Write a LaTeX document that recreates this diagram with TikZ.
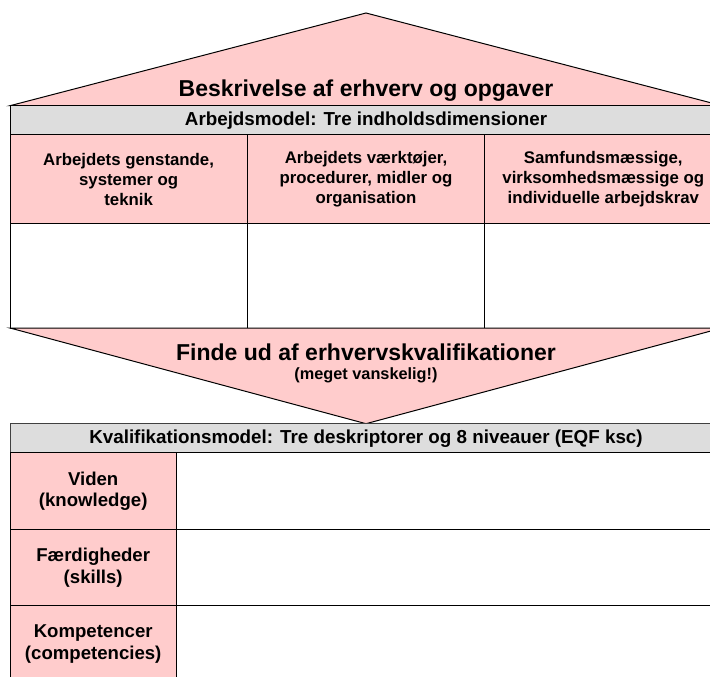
\documentclass[tikz,border=0pt]{standalone}
\usepackage{fontspec}
\setmainfont{Liberation Sans}
\usepackage{tikz}
\usetikzlibrary{positioning}
\definecolor{roofpink}{HTML}{FFCCCC}
\definecolor{bandgray}{HTML}{DDDDDD}

\begin{document}
\begin{tikzpicture}[x=1pt, y=-1pt,
	frame/.style={draw=black, line width=1pt},
	bigtext/.style={font=\bfseries\fontsize{23}{27}\selectfont, align=center},
	bandtext/.style={font=\bfseries\fontsize{18.8}{22}\selectfont, align=center},
	dimtext/.style={font=\bfseries\fontsize{16.8}{20}\selectfont, align=center},
	leveltext/.style={font=\bfseries\fontsize{18.6}{21.5}\selectfont, align=center}]

	\useasboundingbox (0,0) rectangle (710,677);
	\clip (0,0) rectangle (710,677);

	\draw [frame, fill=roofpink] (10,105.7) -- (366,13) -- (722,105.7) -- cycle;
	\node [bigtext, anchor=base] (worktitle) at (366,96.7) {Beskrivelse af erhverv og opgaver};

	\draw [frame, fill=bandgray] (10,105.7) rectangle (722,134.7);
	\node [bandtext] (workmodel) at (366,120.2) {Arbejdsmodel: Tre indholdsdimensioner};

	\draw [frame, fill=roofpink] (10,134.7) rectangle (247.3,223.3);
	\draw [frame, fill=roofpink] (247.3,134.7) rectangle (484.7,223.3);
	\draw [frame, fill=roofpink] (484.7,134.7) rectangle (722,223.3);
	\node [dimtext] (dimA) at (128.6,179) {Arbejdets genstande,\\systemer og\\teknik};
	\node [dimtext] (dimB) at (366,179) {Arbejdets værktøjer,\\procedurer, midler og\\organisation};
	\node [dimtext] (dimC) at (603.3,179) {Samfundsmæssige,\\virksomhedsmæssige og\\individuelle arbejdskrav};

	\draw [frame, fill=white] (10,223.3) rectangle (247.3,328);
	\draw [frame, fill=white] (247.3,223.3) rectangle (484.7,328);
	\draw [frame, fill=white] (484.7,223.3) rectangle (722,328);

	\draw [frame, fill=roofpink] (10,328) -- (722,328) -- (366,423.7) -- cycle;
	\node [bigtext] (findout) at (366,352) {Finde ud af erhvervskvalifikationer};
	\node [dimtext, font=\bfseries\fontsize{16.3}{19}\selectfont] (hard) at (366,375.5) {(meget vanskelig!)};

	\draw [frame, draw=black!75, fill=bandgray] (10,423.7) rectangle (722,452.7);
	\node [bandtext] (qualmodel) at (366,438.2) {Kvalifikationsmodel: Tre deskriptorer og 8 niveauer (EQF ksc)};

	\draw [frame, fill=roofpink] (10,452.7) rectangle (176.3,529.3);
	\draw [frame, fill=roofpink] (10,529.3) rectangle (176.3,605.9);
	\draw [frame, fill=roofpink] (10,605.9) rectangle (176.3,682.5);
	\draw [frame, fill=white] (176.3,452.7) rectangle (722,529.3);
	\draw [frame, fill=white] (176.3,529.3) rectangle (722,605.9);
	\draw [frame, fill=white] (176.3,605.9) rectangle (722,682.5);
	\node [leveltext] (know) at (93.2,491) {Viden\\(knowledge)};
	\node [leveltext] (skill) at (93.2,567.6) {Færdigheder\\(skills)};
	\node [leveltext] (comp) at (93.2,644.2) {Kompetencer\\(competencies)};
\end{tikzpicture}
\end{document}
